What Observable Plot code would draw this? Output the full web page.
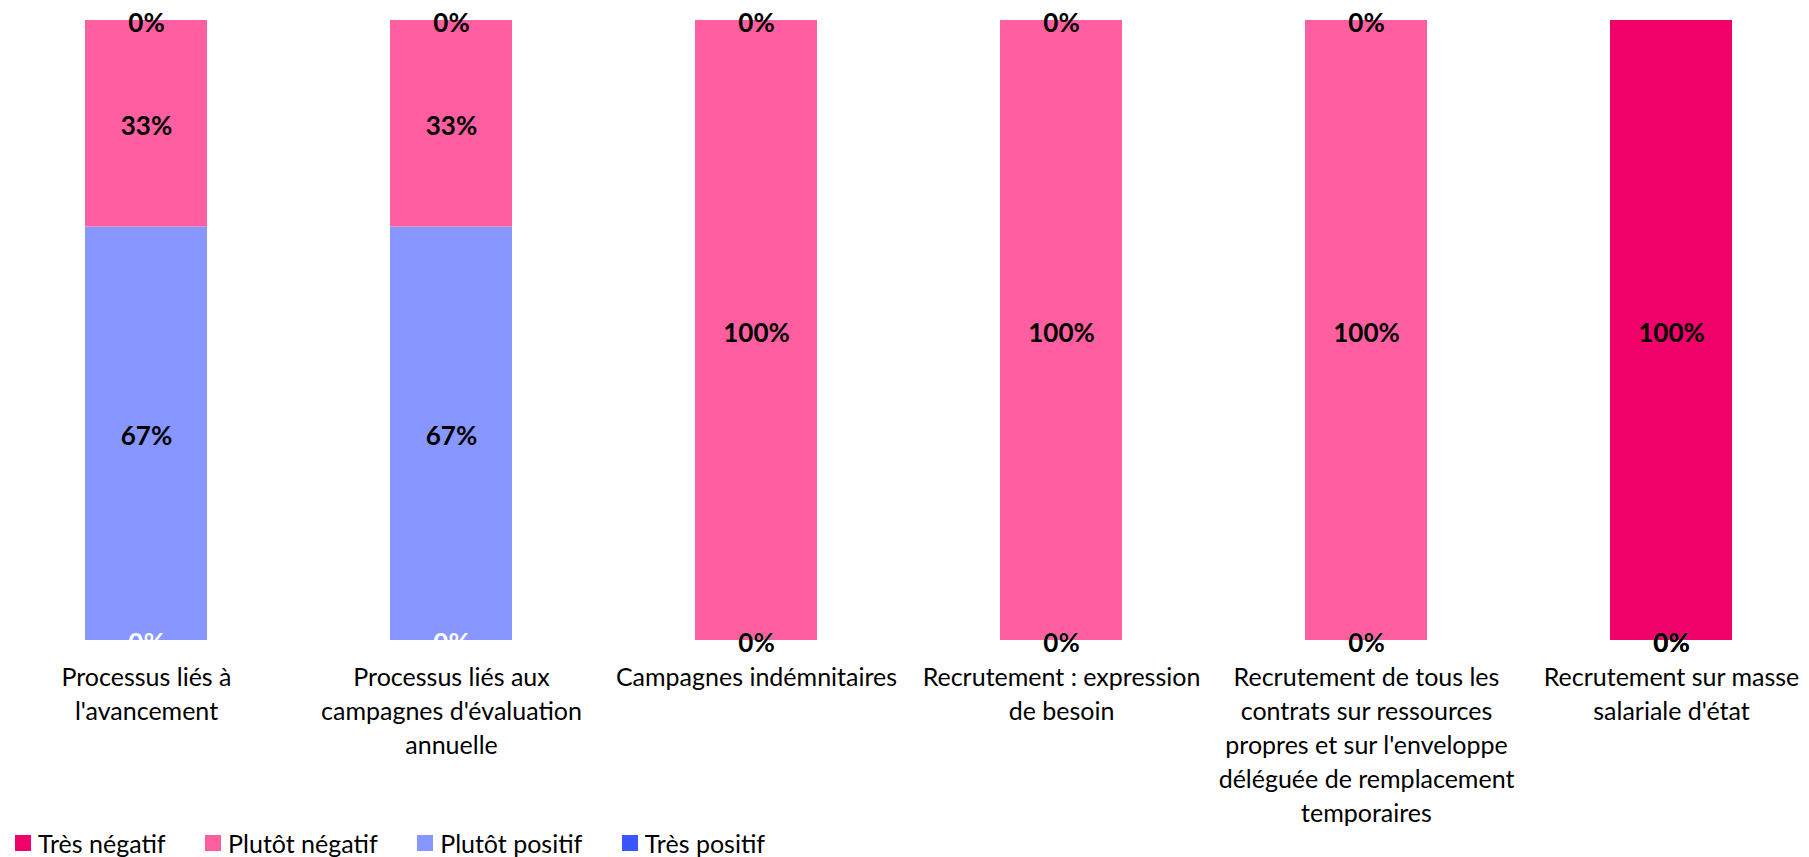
<!DOCTYPE html>
<html>
<head>
<meta charset="utf-8">
<script src="https://cdn.jsdelivr.net/npm/d3@7"></script>
<script src="https://cdn.jsdelivr.net/npm/@observablehq/plot@0.6"></script>
<style>
  body { margin: 0; background: #fff; font-family: Lato, "Noto Sans", sans-serif; position: relative; }
  #chart svg { display: block; }
  #legend { position: absolute; left: 0; top: 826px; display: flex; align-items: center; height: 33px; padding-left: 15px; font-size: 25px; color: #000; white-space: nowrap; }
  .item { display: flex; align-items: center; margin-right: 39.5px; }
  .sw { width: 16px; height: 16px; margin-right: 7px; }
</style>
</head>
<body>
<div id="chart"></div>
<div id="legend"></div>
<script>
const categories = [
  "Processus liés à l'avancement",
  "Processus liés aux campagnes d'évaluation annuelle",
  "Campagnes indémnitaires",
  "Recrutement : expression de besoin",
  "Recrutement de tous les contrats sur ressources propres et sur l'enveloppe déléguée de remplacement temporaires",
  "Recrutement sur masse salariale d'état"
];
const tickLabels = [
  "Processus liés à\nl'avancement",
  "Processus liés aux\ncampagnes d'évaluation\nannuelle",
  "Campagnes indémnitaires",
  "Recrutement : expression\nde besoin",
  "Recrutement de tous les\ncontrats sur ressources\npropres et sur l'enveloppe\ndéléguée de remplacement\ntemporaires",
  "Recrutement sur masse\nsalariale d'état"
];
const series = ["Très positif", "Plutôt positif", "Plutôt négatif", "Très négatif"];
const legendOrder = ["Très négatif", "Plutôt négatif", "Plutôt positif", "Très positif"];
const colors = ["#3b55ff", "#8797ff", "#ff5fa0", "#f0026a"];
const tresPositif   = [0, 0, 0, 0, 0, 0];
const plutotPositif = [66.7, 66.7, 0, 0, 0, 0];
const plutotNegatif = [33.3, 33.3, 100, 100, 100, 0];
const tresNegatif   = [0, 0, 0, 0, 0, 100];

const valuesBySerie = [tresPositif, plutotPositif, plutotNegatif, tresNegatif];
const data = [];
categories.forEach((c, i) => {
  series.forEach((s, j) => data.push({cat: c, serie: s, value: valuesBySerie[j][i]}));
});
const fmt = d => Math.round(d.value) + "%";

const chart = Plot.plot({
  width: 1809,
  height: 857,
  marginTop: 20,
  marginBottom: 217,
  marginLeft: 84,
  marginRight: 76,
  style: {fontFamily: "Lato, 'Noto Sans', sans-serif", background: "#fff"},
  x: {domain: categories, paddingInner: 0.6, paddingOuter: 0, align: 0.5},
  y: {domain: [0, 100], axis: null},
  color: {domain: series, range: colors},
  marks: [
    Plot.barY(data, Plot.stackY({x: "cat", y: "value", fill: "serie"})),
    Plot.text(data, Plot.stackY({x: "cat", y: "value", text: fmt, filter: d => d.serie === "Très positif", fill: "white", fontSize: 26, fontWeight: "bold", dy: 3})),
    Plot.text(data, Plot.stackY({x: "cat", y: "value", text: fmt, filter: d => d.serie !== "Très positif", fill: "black", fontSize: 26, fontWeight: "bold", dy: 3})),
    Plot.axisX({tickSize: 0, tickPadding: 21, fontSize: 25, lineHeight: 1.36, label: null, fill: "#000",
      tickFormat: d => tickLabels[categories.indexOf(d)]})
  ]
});
document.getElementById("chart").appendChild(chart);

const legend = document.getElementById("legend");
legendOrder.forEach(s => {
  const it = document.createElement("div");
  it.className = "item";
  const sw = document.createElement("div");
  sw.className = "sw";
  sw.style.background = colors[series.indexOf(s)];
  const t = document.createElement("span");
  t.textContent = s;
  it.appendChild(sw); it.appendChild(t);
  legend.appendChild(it);
});
</script>
</body>
</html>
